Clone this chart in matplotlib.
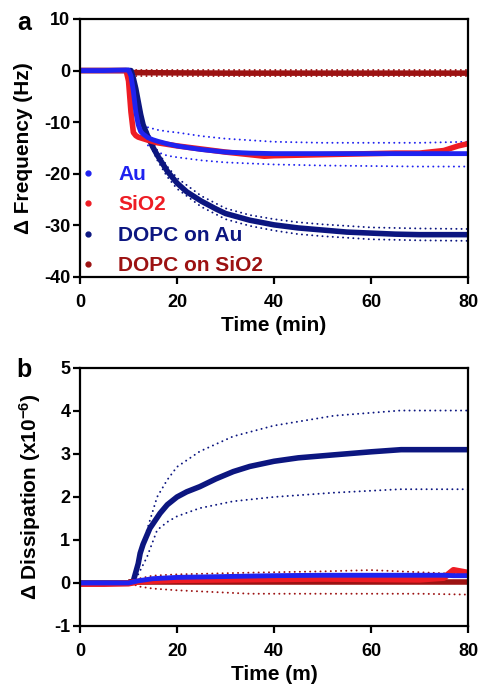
import matplotlib
matplotlib.use("Agg")
import matplotlib.pyplot as plt
from matplotlib.lines import Line2D

plt.rcParams['font.family'] = ['Liberation Sans', 'DejaVu Sans']
plt.rcParams['font.weight'] = 'bold'
plt.rcParams['axes.unicode_minus'] = False
plt.rcParams['mathtext.fontset'] = 'custom'
plt.rcParams['mathtext.rm'] = 'Liberation Sans:bold'
plt.rcParams['mathtext.bf'] = 'Liberation Sans:bold'
plt.rcParams['mathtext.default'] = 'bf'

# colours
c_au = '#1f22f0'
c_si = '#ee1c24'
c_dau = '#0c1680'
c_dsi = '#9c1212'

# ---- panel a: frequency ----
t_au = [0, 5, 9.5, 10, 10.5, 11, 11.5, 12, 12.5, 13, 14, 15, 16, 18, 20, 22, 25,
        28, 30, 35, 40, 45, 50, 55, 60, 65, 70, 75, 80]
f_au = [0, 0, 0.1, 0.1, -1, -4, -8, -10.5, -11.8, -12.3, -13, -13.4, -13.7, -14.2,
        -14.6, -14.9, -15.3, -15.6, -15.8, -16.0, -16.1, -16.1, -16.1, -16.1, -16.1,
        -16.1, -16.1, -16.1, -16.1]
t_au_sd = [14, 16, 18, 20, 25, 30, 35, 40, 50, 60, 70, 80]
f_au_hi = [-11, -11.5, -11.8, -12, -12.7, -13.2, -13.5, -13.8, -14, -14, -14, -13.8]
f_au_lo = [-14.5, -15.8, -16.5, -16.8, -17.4, -17.8, -18.0, -18.2, -18.4, -18.5, -18.6, -18.6]

t_si = [0, 5, 9.5, 10, 10.5, 11, 11.5, 12, 13, 14, 16, 20, 25, 30, 35, 38, 40, 50,
        60, 65, 70, 75, 78, 79.4]
f_si = [0, 0, 0, -2, -8, -12, -12.6, -12.9, -13.2, -13.5, -14, -14.6, -15.2, -15.8,
        -16.3, -16.6, -16.5, -16.3, -16.1, -16.0, -16.0, -15.5, -14.6, -14.3]

t_dau = [0, 5, 10, 10.5, 11, 11.5, 12, 12.5, 13, 14, 15, 16, 18, 20, 22, 25, 28, 30,
         35, 40, 45, 50, 55, 60, 65, 70, 75, 80]
f_dau = [0, 0, 0, 0, -1.5, -3.5, -6, -8.5, -10.5, -12.8, -14.8, -16.5, -19.5, -21.8,
         -23.5, -25.3, -26.8, -27.7, -29.0, -29.9, -30.5, -30.9, -31.3, -31.5, -31.7,
         -31.8, -31.8, -31.8]
t_dau_sd = [13, 14, 16, 18, 20, 25, 30, 35, 40, 45, 50, 60, 70, 80]
f_dau_hi = [-10, -12, -15.6, -18.6, -20.8, -24.3, -26.7, -28.0, -28.8, -29.4, -29.8, -30.4, -30.6, -30.7]
f_dau_lo = [-11, -13.5, -17.5, -20.6, -22.9, -26.4, -28.8, -30.1, -31.0, -31.7, -32.1, -32.7, -32.9, -33.0]

t_dsi = [10.5, 20, 30, 40, 50, 60, 70, 80]
f_dsi = [-0.4, -0.45, -0.5, -0.5, -0.5, -0.5, -0.5, -0.5]
f_dsi_hi = [0.1, 0.1, 0.1, 0.1, 0.1, 0.1, 0.1, 0.1]
f_dsi_lo = [-1.1, -1.1, -1.1, -1.1, -1.1, -1.1, -1.1, -1.1]

# ---- panel b: dissipation ----
t_dd = [0, 5, 10, 11, 12, 12.4, 13, 14.4, 16.5, 18, 20, 22, 24.7, 28, 31.6, 35, 40,
        45, 52.4, 60, 66.2, 70, 80]
d_dau = [0, 0, 0, 0.05, 0.45, 0.69, 0.9, 1.27, 1.62, 1.82, 2.0, 2.12, 2.24, 2.42,
         2.59, 2.71, 2.83, 2.91, 2.98, 3.05, 3.1, 3.1, 3.1]
t_dd_sd = [12, 13.8, 15.9, 18, 20, 24.7, 31.6, 40, 52.4, 66, 80]
d_dau_hi = [0.4, 1.23, 2.0, 2.4, 2.7, 3.06, 3.41, 3.66, 3.89, 4.01, 4.01]
d_dau_lo = [0.2, 0.6, 1.23, 1.42, 1.55, 1.74, 1.9, 2.0, 2.1, 2.18, 2.18]

t_d = [0, 5, 10, 12, 15, 20, 30, 40, 50, 60, 70, 75, 77, 79.4]
d_au = [0, 0, 0, 0.05, 0.1, 0.13, 0.15, 0.17, 0.18, 0.18, 0.18, 0.18, 0.17, 0.17]
d_si = [-0.02, -0.02, -0.01, 0.03, 0.05, 0.07, 0.08, 0.09, 0.1, 0.09, 0.08, 0.12, 0.3, 0.25]

t_dsi_d = [10.5, 12, 15, 20, 35, 50, 60, 70, 80]
d_dsi = [0.02, 0.02, 0.02, 0.02, 0.02, 0.02, 0.02, 0.02, 0.02]
d_dsi_hi = [0.02, 0.1, 0.17, 0.2, 0.24, 0.27, 0.3, 0.25, 0.2]
d_dsi_lo = [0.0, -0.08, -0.13, -0.17, -0.25, -0.25, -0.25, -0.25, -0.27]

labels = ['Au', 'SiO2', 'DOPC on Au', 'DOPC on SiO2']
colors = [c_au, c_si, c_dau, c_dsi]

fig = plt.figure(figsize=(4.8, 6.94), dpi=100)
ax1 = fig.add_axes([0.1667, 0.6009, 0.8083, 0.3718])
ax2 = fig.add_axes([0.1667, 0.098, 0.8083, 0.3718])

dot = dict(ls=(0, (0.05, 2.6)), lw=1.4, dash_capstyle='round')

# panel a
ax1.plot(t_dsi, f_dsi_hi, color=c_dsi, **dot)
ax1.plot(t_dsi, f_dsi_lo, color=c_dsi, **dot)
ax1.plot(t_dsi, f_dsi, color=c_dsi, lw=4)
ax1.plot(t_au_sd, f_au_hi, color=c_au, **dot)
ax1.plot(t_au_sd, f_au_lo, color=c_au, **dot)
ax1.plot(t_dau_sd, f_dau_hi, color=c_dau, **dot)
ax1.plot(t_dau_sd, f_dau_lo, color=c_dau, **dot)
ax1.plot(t_dau, f_dau, color=c_dau, lw=4)
ax1.plot(t_si, f_si, color=c_si, lw=4)
ax1.plot(t_au, f_au, color=c_au, lw=3.5)

ax1.set_xlim(0, 80)
ax1.set_ylim(-40, 10)
ax1.set_yticks([-40, -30, -20, -10, 0, 10])
ax1.set_xticks([0, 20, 40, 60, 80])
ax1.set_xlabel('Time (min)', fontsize=15, fontweight='bold', labelpad=4)
ax1.set_ylabel('Δ Frequency (Hz)', fontsize=15, fontweight='bold', labelpad=8)

handles = [Line2D([], [], ls='', marker='o', ms=3.5, color=c) for c in colors]
leg = ax1.legend(handles, labels, loc='lower left', bbox_to_anchor=(0.0, -0.01),
                 frameon=False, prop={'weight': 'bold', 'size': 15},
                 handletextpad=1.24, labelspacing=0.55, handlelength=0.4,
                 borderaxespad=0.0, borderpad=0.2)
for txt, c in zip(leg.get_texts(), colors):
    txt.set_color(c)

# panel b
ax2.plot(t_dsi_d, d_dsi_hi, color=c_dsi, **dot)
ax2.plot(t_dsi_d, d_dsi_lo, color=c_dsi, **dot)
ax2.plot(t_dd_sd, d_dau_hi, color=c_dau, **dot)
ax2.plot(t_dd_sd, d_dau_lo, color=c_dau, **dot)
ax2.plot(t_dd, d_dau, color=c_dau, lw=4)
ax2.plot(t_dsi_d, d_dsi, color=c_dsi, lw=4)
ax2.plot(t_d, d_si, color=c_si, lw=4.5)
ax2.plot(t_d, d_au, color=c_au, lw=3.5)

ax2.set_xlim(0, 80)
ax2.set_ylim(-1, 5)
ax2.set_yticks([-1, 0, 1, 2, 3, 4, 5])
ax2.set_xticks([0, 20, 40, 60, 80])
ax2.set_xlabel('Time (m)', fontsize=15, fontweight='bold', labelpad=4)
ax2.set_ylabel('Δ Dissipation (x10$^{-6}$)', fontsize=15, fontweight='bold', labelpad=8)

for ax in (ax1, ax2):
    for sp in ax.spines.values():
        sp.set_linewidth(1.6)
    ax.tick_params(direction='out', length=5, width=1.6, labelsize=13)
    ax.tick_params(axis='y', pad=2)
    ax.tick_params(axis='x', pad=7)
    for lab in ax.get_xticklabels() + ax.get_yticklabels():
        lab.set_fontweight('bold')

fig.text(0.035, 0.967, 'a', fontsize=18, fontweight='bold', va='center')
fig.text(0.035, 0.467, 'b', fontsize=18, fontweight='bold', va='center')

fig.savefig('out.png', dpi=100)
